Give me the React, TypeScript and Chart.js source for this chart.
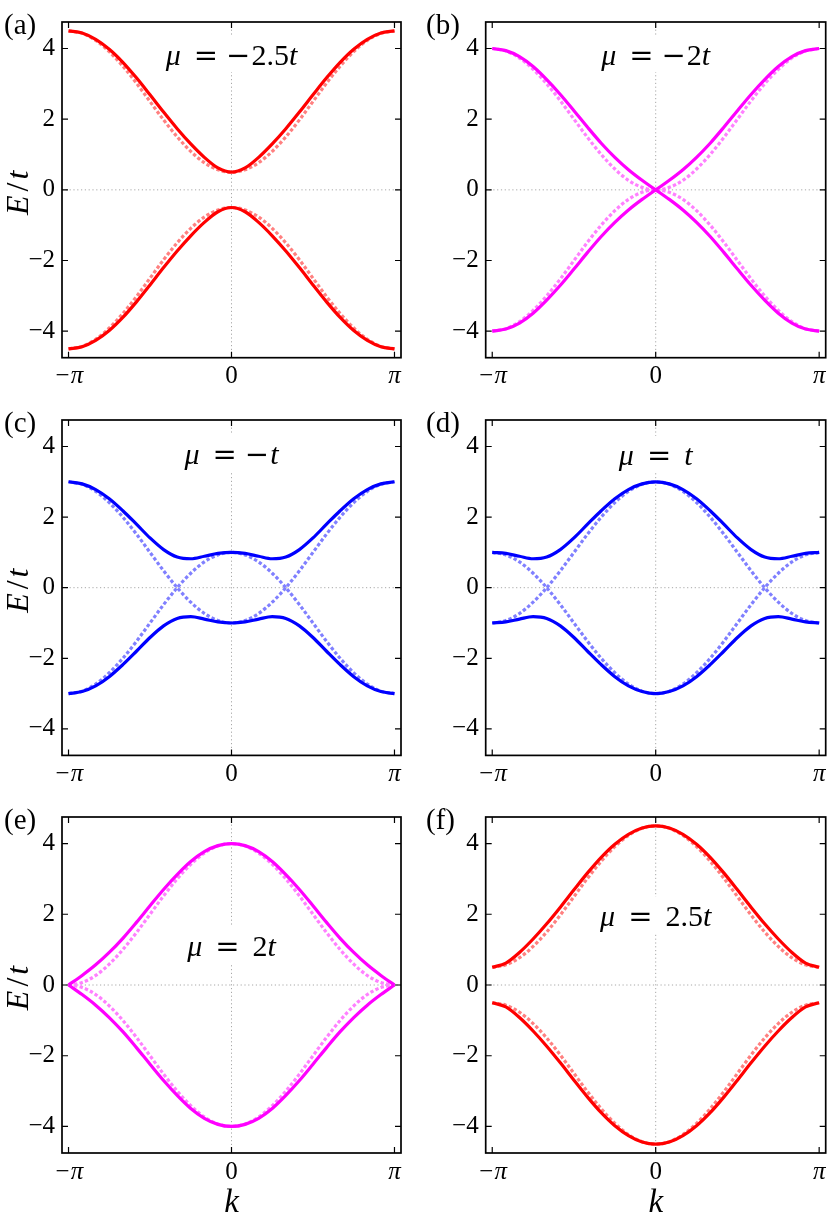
import React, { useEffect, useRef } from "react";
import { Chart, registerables } from "chart.js";

Chart.register(...registerables);

// ---------- data ----------
// momentum samples, in units of pi
const K_OVER_PI = [-1, -0.9167, -0.8333, -0.75, -0.6667, -0.5833, -0.5, -0.4167, -0.3333, -0.25, -0.1667, -0.0833, 0, 0.0833, 0.1667, 0.25, 0.3333, 0.4167, 0.5, 0.5833, 0.6667, 0.75, 0.8333, 0.9167, 1];

const Y_TICKS = [-4, -2, 0, 2, 4];
const Y_TICK_LABELS = ["−4", "−2", "0", "2", "4"];
const X_TICKS_OVER_PI = [-1, 0, 1];
const X_TICK_LABELS = ["−π", "0", "π"];
const PANEL_LABELS = ["(a)", "(b)", "(c)", "(d)", "(e)", "(f)"];
const MU_VALUES = ["−2.5", "−2", "−", "", "2", "2.5"];

// (a) mu = -2.5t
const A_SOLID_UP = [4.5, 4.44, 4.26, 3.98, 3.61, 3.17, 2.69, 2.2, 1.73, 1.3, 0.92, 0.62, 0.5, 0.62, 0.92, 1.3, 1.73, 2.2, 2.69, 3.17, 3.61, 3.98, 4.26, 4.44, 4.5];
const A_SOLID_LO = [-4.5, -4.44, -4.26, -3.98, -3.61, -3.17, -2.69, -2.2, -1.73, -1.3, -0.92, -0.62, -0.5, -0.62, -0.92, -1.3, -1.73, -2.2, -2.69, -3.17, -3.61, -3.98, -4.26, -4.44, -4.5];
const A_DASH_UP = [4.5, 4.43, 4.23, 3.91, 3.5, 3.02, 2.5, 1.98, 1.5, 1.09, 0.77, 0.57, 0.5, 0.57, 0.77, 1.09, 1.5, 1.98, 2.5, 3.02, 3.5, 3.91, 4.23, 4.43, 4.5];
const A_DASH_LO = [-4.5, -4.43, -4.23, -3.91, -3.5, -3.02, -2.5, -1.98, -1.5, -1.09, -0.77, -0.57, -0.5, -0.57, -0.77, -1.09, -1.5, -1.98, -2.5, -3.02, -3.5, -3.91, -4.23, -4.43, -4.5];

// (b) mu = -2t
const B_SOLID_1 = [4, 3.94, 3.77, 3.49, 3.12, 2.7, 2.24, 1.77, 1.32, 0.92, 0.57, 0.27, 0, -0.27, -0.57, -0.92, -1.32, -1.77, -2.24, -2.7, -3.12, -3.49, -3.77, -3.94, -4];
const B_SOLID_2 = [-4, -3.94, -3.77, -3.49, -3.12, -2.7, -2.24, -1.77, -1.32, -0.92, -0.57, -0.27, 0, 0.27, 0.57, 0.92, 1.32, 1.77, 2.24, 2.7, 3.12, 3.49, 3.77, 3.94, 4];
const B_DASH_UP = [4, 3.93, 3.73, 3.41, 3, 2.52, 2, 1.48, 1, 0.59, 0.27, 0.07, 0, 0.07, 0.27, 0.59, 1, 1.48, 2, 2.52, 3, 3.41, 3.73, 3.93, 4];
const B_DASH_LO = [-4, -3.93, -3.73, -3.41, -3, -2.52, -2, -1.48, -1, -0.59, -0.27, -0.07, 0, -0.07, -0.27, -0.59, -1, -1.48, -2, -2.52, -3, -3.41, -3.73, -3.93, -4];

// (c) mu = -t
const C_SOLID_UP = [3, 2.94, 2.78, 2.52, 2.18, 1.8, 1.41, 1.08, 0.87, 0.82, 0.89, 0.97, 1, 0.97, 0.89, 0.82, 0.87, 1.08, 1.41, 1.8, 2.18, 2.52, 2.78, 2.94, 3];
const C_SOLID_LO = [-3, -2.94, -2.78, -2.52, -2.18, -1.8, -1.41, -1.08, -0.87, -0.82, -0.89, -0.97, -1, -0.97, -0.89, -0.82, -0.87, -1.08, -1.41, -1.8, -2.18, -2.52, -2.78, -2.94, -3];
const C_DASH_1 = [-3, -2.93, -2.73, -2.41, -2, -1.52, -1, -0.48, 0, 0.41, 0.73, 0.93, 1, 0.93, 0.73, 0.41, 0, -0.48, -1, -1.52, -2, -2.41, -2.73, -2.93, -3];
const C_DASH_2 = [3, 2.93, 2.73, 2.41, 2, 1.52, 1, 0.48, 0, -0.41, -0.73, -0.93, -1, -0.93, -0.73, -0.41, 0, 0.48, 1, 1.52, 2, 2.41, 2.73, 2.93, 3];

// (d) mu = t
const D_SOLID_UP = [1, 0.97, 0.89, 0.82, 0.87, 1.08, 1.41, 1.8, 2.18, 2.52, 2.78, 2.94, 3, 2.94, 2.78, 2.52, 2.18, 1.8, 1.41, 1.08, 0.87, 0.82, 0.89, 0.97, 1];
const D_SOLID_LO = [-1, -0.97, -0.89, -0.82, -0.87, -1.08, -1.41, -1.8, -2.18, -2.52, -2.78, -2.94, -3, -2.94, -2.78, -2.52, -2.18, -1.8, -1.41, -1.08, -0.87, -0.82, -0.89, -0.97, -1];
const D_DASH_1 = [-1, -0.93, -0.73, -0.41, 0, 0.48, 1, 1.52, 2, 2.41, 2.73, 2.93, 3, 2.93, 2.73, 2.41, 2, 1.52, 1, 0.48, 0, -0.41, -0.73, -0.93, -1];
const D_DASH_2 = [1, 0.93, 0.73, 0.41, 0, -0.48, -1, -1.52, -2, -2.41, -2.73, -2.93, -3, -2.93, -2.73, -2.41, -2, -1.52, -1, -0.48, 0, 0.41, 0.73, 0.93, 1];

// (e) mu = 2t
const E_SOLID_UP = [0, 0.27, 0.57, 0.92, 1.32, 1.77, 2.24, 2.7, 3.12, 3.49, 3.77, 3.94, 4, 3.94, 3.77, 3.49, 3.12, 2.7, 2.24, 1.77, 1.32, 0.92, 0.57, 0.27, 0];
const E_SOLID_LO = [0, -0.27, -0.57, -0.92, -1.32, -1.77, -2.24, -2.7, -3.12, -3.49, -3.77, -3.94, -4, -3.94, -3.77, -3.49, -3.12, -2.7, -2.24, -1.77, -1.32, -0.92, -0.57, -0.27, 0];
const E_DASH_UP = [0, 0.07, 0.27, 0.59, 1, 1.48, 2, 2.52, 3, 3.41, 3.73, 3.93, 4, 3.93, 3.73, 3.41, 3, 2.52, 2, 1.48, 1, 0.59, 0.27, 0.07, 0];
const E_DASH_LO = [0, -0.07, -0.27, -0.59, -1, -1.48, -2, -2.52, -3, -3.41, -3.73, -3.93, -4, -3.93, -3.73, -3.41, -3, -2.52, -2, -1.48, -1, -0.59, -0.27, -0.07, 0];

// (f) mu = 2.5t
const F_SOLID_UP = [0.5, 0.62, 0.92, 1.3, 1.73, 2.2, 2.69, 3.17, 3.61, 3.98, 4.26, 4.44, 4.5, 4.44, 4.26, 3.98, 3.61, 3.17, 2.69, 2.2, 1.73, 1.3, 0.92, 0.62, 0.5];
const F_SOLID_LO = [-0.5, -0.62, -0.92, -1.3, -1.73, -2.2, -2.69, -3.17, -3.61, -3.98, -4.26, -4.44, -4.5, -4.44, -4.26, -3.98, -3.61, -3.17, -2.69, -2.2, -1.73, -1.3, -0.92, -0.62, -0.5];
const F_DASH_UP = [0.5, 0.57, 0.77, 1.09, 1.5, 1.98, 2.5, 3.02, 3.5, 3.91, 4.23, 4.43, 4.5, 4.43, 4.23, 3.91, 3.5, 3.02, 2.5, 1.98, 1.5, 1.09, 0.77, 0.57, 0.5];
const F_DASH_LO = [-0.5, -0.57, -0.77, -1.09, -1.5, -1.98, -2.5, -3.02, -3.5, -3.91, -4.23, -4.43, -4.5, -4.43, -4.23, -3.91, -3.5, -3.02, -2.5, -1.98, -1.5, -1.09, -0.77, -0.57, -0.5];

const PANEL_SERIES = [
  { solid: [A_SOLID_UP, A_SOLID_LO], dashed: [A_DASH_UP, A_DASH_LO], color: "#ff0000", light: "#ff8080" },
  { solid: [B_SOLID_1, B_SOLID_2], dashed: [B_DASH_UP, B_DASH_LO], color: "#ff00ff", light: "#ff80ff" },
  { solid: [C_SOLID_UP, C_SOLID_LO], dashed: [C_DASH_1, C_DASH_2], color: "#0000ff", light: "#8080ff" },
  { solid: [D_SOLID_UP, D_SOLID_LO], dashed: [D_DASH_1, D_DASH_2], color: "#0000ff", light: "#8080ff" },
  { solid: [E_SOLID_UP, E_SOLID_LO], dashed: [E_DASH_UP, E_DASH_LO], color: "#ff00ff", light: "#ff80ff" },
  { solid: [F_SOLID_UP, F_SOLID_LO], dashed: [F_DASH_UP, F_DASH_LO], color: "#ff0000", light: "#ff8080" },
];

// ---------- layout ----------
const SERIF = '"Liberation Serif", "Times New Roman", serif';
const WIDE = '"DejaVu Serif", serif';
const CANVAS_W = 415;
const COL_LEFT = [0, 415];
const ROW_TOP = [0, 398, 795];
const CANVAS_H = [398, 397, 422];
const PLOT_TOP = [18, 17.7, 18.3];
const PLOT_H = 339.7;
const Y_AXIS_W = [62, 70.7];
const PAD_RIGHT = [14, 4.3];
const X_EXTENT = 1.04 * Math.PI;
const Y_EXTENT = 4.75;
const TITLE_OFFSET = [33, 33, 34, 35, 129, 99];

type Part = { text: string; font: string; gap?: number };

function drawParts(ctx: CanvasRenderingContext2D, parts: Part[], cx: number, baseline: number) {
  let total = 0;
  for (const p of parts) {
    ctx.font = p.font;
    total += (p.gap || 0) + ctx.measureText(p.text).width;
  }
  let x = cx - total / 2;
  ctx.textAlign = "left";
  ctx.textBaseline = "alphabetic";
  for (const p of parts) {
    ctx.font = p.font;
    x += p.gap || 0;
    ctx.fillText(p.text, x, baseline);
    x += ctx.measureText(p.text).width;
  }
  return total;
}

function titleParts(mu: string): Part[] {
  const fs = 30;
  const parts: Part[] = [
    { text: "μ", font: `italic ${fs}px ${SERIF}` },
    { text: "=", font: `${fs - 1}px ${WIDE}`, gap: 13 },
  ];
  let rest = mu;
  let nextGap = 13;
  if (mu.startsWith("−")) {
    parts.push({ text: "−", font: `${fs - 1}px ${WIDE}`, gap: 8 });
    rest = mu.slice(1);
    nextGap = 1;
  }
  if (rest) {
    parts.push({ text: rest, font: `${fs}px ${SERIF}`, gap: nextGap });
    nextGap = 0;
  }
  parts.push({ text: "t", font: `italic ${fs}px ${SERIF}`, gap: nextGap });
  return parts;
}

function makeDeco(i: number) {
  const row = Math.floor(i / 2);
  const col = i % 2;
  const parts = titleParts(MU_VALUES[i]);
  return {
    id: "deco" + i,
    beforeDatasetsDraw(chart: any) {
      const { ctx, chartArea: a, scales } = chart;
      const x0 = scales.x.getPixelForValue(0);
      const y0 = scales.y.getPixelForValue(0);
      ctx.save();
      ctx.strokeStyle = "#a8a8a8";
      ctx.lineWidth = 1;
      ctx.setLineDash([1.2, 2.6]);
      ctx.beginPath();
      ctx.moveTo(x0, a.top);
      ctx.lineTo(x0, a.bottom);
      ctx.moveTo(a.left, y0);
      ctx.lineTo(a.right, y0);
      ctx.stroke();
      // white box behind the title
      let w = 0;
      for (const p of parts) {
        ctx.font = p.font;
        w += (p.gap || 0) + ctx.measureText(p.text).width;
      }
      const cy = a.top + TITLE_OFFSET[i];
      ctx.fillStyle = "#ffffff";
      ctx.fillRect(x0 - w / 2 - 4, cy - 19, w + 8, 36);
      ctx.restore();
    },
    afterDraw(chart: any) {
      const { ctx, chartArea: a, scales } = chart;
      ctx.save();
      ctx.setLineDash([]);
      ctx.strokeStyle = "#000";
      ctx.lineWidth = 1.2;
      ctx.beginPath();
      for (const v of Y_TICKS) {
        const py = scales.y.getPixelForValue(v);
        ctx.moveTo(a.left, py);
        ctx.lineTo(a.left + 6, py);
        ctx.moveTo(a.right, py);
        ctx.lineTo(a.right - 6, py);
      }
      for (const f of X_TICKS_OVER_PI) {
        const px = scales.x.getPixelForValue(f * Math.PI);
        ctx.moveTo(px, a.bottom);
        ctx.lineTo(px, a.bottom - 6);
        ctx.moveTo(px, a.top);
        ctx.lineTo(px, a.top + 6);
      }
      ctx.stroke();
      ctx.lineWidth = 1.7;
      ctx.strokeRect(a.left, a.top, a.right - a.left, a.bottom - a.top);

      ctx.fillStyle = "#000";
      // panel label
      ctx.font = `29px ${SERIF}`;
      ctx.textAlign = "left";
      ctx.textBaseline = "middle";
      ctx.fillText(PANEL_LABELS[i], col === 0 ? 4 : 11, a.top + 4);

      // title
      const x0 = scales.x.getPixelForValue(0);
      const cy = a.top + TITLE_OFFSET[i];
      drawParts(ctx, parts, x0, cy + 10);

      // axis labels
      if (col === 0) {
        ctx.save();
        ctx.translate(28, a.top + (a.bottom - a.top) / 2 + 3);
        ctx.rotate(-Math.PI / 2);
        drawParts(
          ctx,
          [
            { text: "E", font: `italic 32px ${SERIF}` },
            { text: "/", font: `32px ${SERIF}`, gap: 4 },
            { text: "t", font: `italic 32px ${SERIF}`, gap: 3 },
          ],
          0,
          0
        );
        ctx.restore();
      }
      if (row === 2) {
        drawParts(ctx, [{ text: "k", font: `italic 33px ${SERIF}` }], x0, a.bottom + 59);
      }
      ctx.restore();
    },
  };
}

function Panel({ index }: { index: number }) {
  const ref = useRef<HTMLCanvasElement>(null);
  const row = Math.floor(index / 2);
  const col = index % 2;
  useEffect(() => {
    const canvas = ref.current;
    if (!canvas) return;
    const s = PANEL_SERIES[index];
    const K = K_OVER_PI.map((f) => f * Math.PI);
    const toPts = (arr: number[]) => K.map((k, j) => ({ x: k, y: arr[j] }));
    const solidDs = s.solid.map((arr) => ({
      data: toPts(arr),
      borderColor: s.color,
      borderWidth: 3.2,
      pointRadius: 0,
      cubicInterpolationMode: "monotone" as const,
      borderCapStyle: "butt" as const,
      borderJoinStyle: "round" as const,
      fill: false,
    }));
    const dashDs = s.dashed.map((arr) => ({
      data: toPts(arr),
      borderColor: s.light,
      borderWidth: 3.2,
      borderDash: [3.4, 2.2],
      pointRadius: 0,
      cubicInterpolationMode: "monotone" as const,
      borderCapStyle: "butt" as const,
      fill: false,
    }));
    const chart = new Chart(canvas, {
      type: "line",
      data: { datasets: [...solidDs, ...dashDs] as any },
      options: {
        responsive: false,
        maintainAspectRatio: false,
        animation: false,
        devicePixelRatio: 1,
        events: [],
        layout: {
          autoPadding: false,
          padding: { top: PLOT_TOP[row], right: PAD_RIGHT[col], left: 0, bottom: 0 },
        },
        plugins: {
          legend: { display: false },
          tooltip: { enabled: false },
          title: { display: false },
        },
        scales: {
          x: {
            type: "linear",
            min: -X_EXTENT,
            max: X_EXTENT,
            grid: { display: false, drawTicks: false },
            border: { display: false },
            afterBuildTicks: (sc: any) => {
              sc.ticks = X_TICKS_OVER_PI.map((f) => ({ value: f * Math.PI }));
            },
            afterFit: (sc: any) => {
              sc.height = CANVAS_H[row] - PLOT_TOP[row] - PLOT_H;
            },
            ticks: {
              autoSkip: false,
              maxRotation: 0,
              minRotation: 0,
              padding: 4,
              color: "#000",
              font: (c: any) => ({ family: SERIF, size: 25, style: c.index === 1 ? "normal" : "italic" }),
              callback: (_v: any, idx: number) => X_TICK_LABELS[idx],
            },
          },
          y: {
            type: "linear",
            min: -Y_EXTENT,
            max: Y_EXTENT,
            grid: { display: false, drawTicks: false },
            border: { display: false },
            afterBuildTicks: (sc: any) => {
              sc.ticks = Y_TICKS.map((v) => ({ value: v }));
            },
            afterFit: (sc: any) => {
              sc.width = Y_AXIS_W[col];
            },
            ticks: {
              autoSkip: false,
              padding: 7,
              color: "#000",
              font: { family: SERIF, size: 25 },
              callback: (_v: any, idx: number) => Y_TICK_LABELS[idx],
            },
          },
        },
      } as any,
      plugins: [makeDeco(index)],
    });
    return () => chart.destroy();
  }, [index]);
  return (
    <canvas
      ref={ref}
      width={CANVAS_W}
      height={CANVAS_H[row]}
      style={{
        position: "absolute",
        left: COL_LEFT[col],
        top: ROW_TOP[row],
        width: CANVAS_W,
        height: CANVAS_H[row],
        display: "block",
      }}
    />
  );
}

export default function App() {
  return (
    <div
      style={{
        position: "absolute",
        left: 0,
        top: 0,
        width: 830,
        height: 1217,
        background: "#ffffff",
        overflow: "hidden",
      }}
    >
      {[0, 1, 2, 3, 4, 5].map((i) => (
        <Panel key={i} index={i} />
      ))}
    </div>
  );
}
